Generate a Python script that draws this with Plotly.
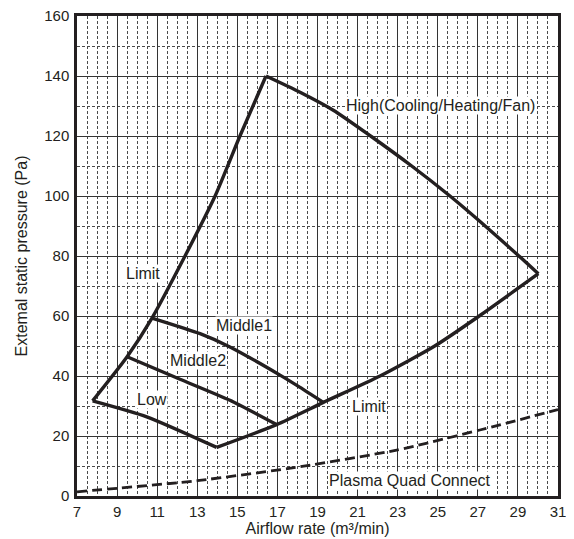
import plotly.graph_objects as go

# ---- data ----
limit_left_x = [7.78, 9.5, 10.74, 12.39, 13.89, 15.13, 16.43]
limit_left_y = [31.7, 46.4, 59.3, 80.0, 100.0, 120.0, 140.0]

high_x = [16.43, 18.13, 19.79, 21.65, 23.7, 25.61, 27.11, 28.94, 30.02]
high_y = [140.0, 134.6, 128.6, 120.0, 110.0, 100.0, 91.5, 80.7, 74.1]

limit_right_x = [13.97, 16.96, 19.29, 22.12, 24.85, 27.07, 30.02]
limit_right_y = [16.2, 23.8, 31.2, 40.0, 50.0, 60.0, 74.1]

middle1_x = [10.74, 13.14, 14.63, 17.13, 18.13, 19.29]
middle1_y = [59.3, 54.1, 49.7, 40.3, 36.2, 31.2]

middle2_x = [9.5, 12.14, 14.63, 16.96]
middle2_y = [46.4, 38.9, 31.9, 23.8]

low_x = [7.78, 10.48, 13.97]
low_y = [31.7, 26.4, 16.2]

plasma_x = [7.0, 13.0, 18.13, 22.95, 27.1, 31.0]
plasma_y = [1.4, 5.1, 9.75, 15.3, 22.0, 28.8]

label_text = ["High(Cooling/Heating/Fan)", "Limit", "Middle1", "Middle2", "Low", "Limit", "Plasma Quad Connect"]
label_x = [25.15, 10.27, 15.34, 13.05, 10.72, 21.55, 23.6]
label_y = [130.1, 74.1, 56.9, 45.2, 32.3, 29.7, 5.3]

x_ticks = list(range(7, 32, 2))
y_ticks = list(range(0, 161, 20))

INK = "#231f20"
FONT = "Liberation Sans, Arial, sans-serif"

fig = go.Figure()

solid = [
    (limit_left_x, limit_left_y),
    (high_x, high_y),
    (limit_right_x, limit_right_y),
    (middle1_x, middle1_y),
    (middle2_x, middle2_y),
    (low_x, low_y),
]
for xs, ys in solid:
    fig.add_trace(go.Scatter(x=xs, y=ys, mode="lines",
                             line=dict(color=INK, width=3.4, shape="spline", smoothing=0.6),
                             showlegend=False, hoverinfo="skip"))

fig.add_trace(go.Scatter(x=plasma_x, y=plasma_y, mode="lines",
                         line=dict(color=INK, width=2.8, shape="spline", smoothing=0.6, dash="10px,5px"),
                         showlegend=False, hoverinfo="skip"))

for t, x, y in zip(label_text, label_x, label_y):
    fig.add_annotation(x=x, y=y, text=t, showarrow=False,
                       font=dict(family=FONT, size=16, color=INK),
                       bgcolor="white", borderpad=0)

fig.update_xaxes(range=[7, 31], tickvals=x_ticks, ticktext=[str(v) for v in x_ticks],
                 showgrid=True, gridcolor="#333333", gridwidth=1.3,
                 minor=dict(dtick=0.5, tick0=7, showgrid=True, gridcolor="#4a4a4a", gridwidth=0.9, griddash="3px,2px"),
                 showline=True, linecolor=INK, linewidth=2.5, mirror=True,
                 ticks="", ticklabelstandoff=0, zeroline=False, automargin=False,
                 ticklabeloverflow="allow",
                 tickfont=dict(family=FONT, size=15, color=INK),
                 title=dict(text="Airflow rate (m³/min)", font=dict(family=FONT, size=16, color=INK), standoff=0))
fig.update_yaxes(range=[0, 160], tickvals=y_ticks,
                 showgrid=True, gridcolor="#333333", gridwidth=1.3,
                 minor=dict(dtick=10, tick0=0, showgrid=True, gridcolor="#4a4a4a", gridwidth=0.9, griddash="3px,2px"),
                 showline=True, linecolor=INK, linewidth=2.5, mirror=True,
                 ticks="", ticklabelstandoff=2, zeroline=False, automargin=False,
                 ticklabeloverflow="allow",
                 tickfont=dict(family=FONT, size=15, color=INK),
                 title=dict(text="Extemal static pressure (Pa)", font=dict(family=FONT, size=16, color=INK), standoff=13))

# the page body adds an 8px offset, so the figure is 8px smaller and margins shifted
fig.update_layout(width=566, height=531, margin=dict(l=69, r=16, t=8, b=43),
                  plot_bgcolor="white", paper_bgcolor="white")

fig.write_html("out.html")
